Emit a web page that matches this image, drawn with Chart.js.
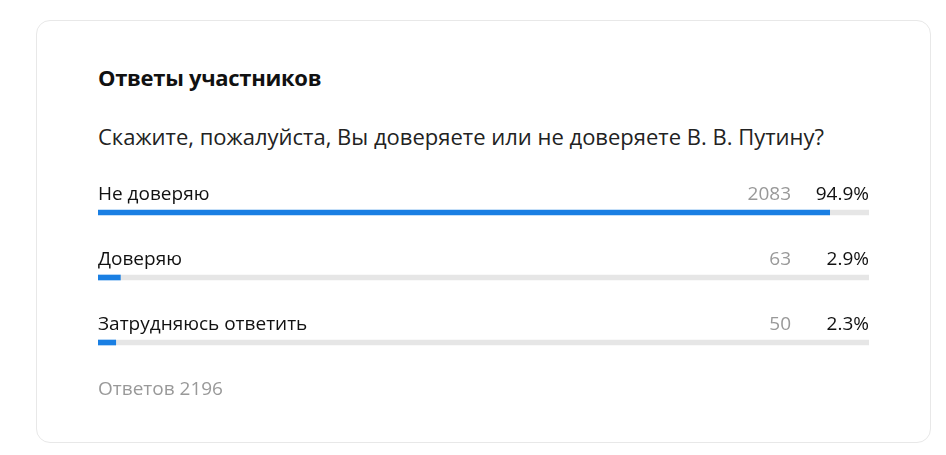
<!DOCTYPE html>
<html>
<head>
<meta charset="utf-8">
<script src="https://cdn.jsdelivr.net/npm/chart.js@4/dist/chart.umd.min.js"></script>
<style>
  body { margin: 0; background: #fff; font-family: "Open Sans", "Noto Sans", sans-serif; }
  #card {
    position: absolute; left: 36px; top: 20px; width: 893px; height: 421px;
    border: 1px solid #e8e8e8; border-radius: 14px;
  }
  #title { position: absolute; left: 98px; top: 62px; font-size: 22px; font-weight: 700; color: #111; letter-spacing: -0.3px; line-height: 30px; }
  #question { position: absolute; left: 98px; top: 121px; font-size: 22px; color: #222; line-height: 30px; }
  #footer { position: absolute; left: 98px; top: 375px; font-size: 19px; color: #999; line-height: 26px; }
  #wrap { position: absolute; left: 98px; top: 170px; width: 771px; height: 215px; }
</style>
</head>
<body>
<div id="card"></div>
<div id="title">Ответы участников</div>
<div id="question">Скажите, пожалуйста, Вы доверяете или не доверяете В. В. Путину?</div>
<div id="wrap"><canvas id="chart"></canvas></div>
<div id="footer">Ответов 2196</div>
<script>
// answers as shown in the poll
const answers = ["Не доверяю", "Доверяю", "Затрудняюсь ответить"];
const counts = [2083, 63, 50];
const percents = [94.9, 2.9, 2.3];

const rest = percents.map(p => 100 - p);

// text above each bar: answer on the left, count and percent on the right
const rowText = {
  id: "rowText",
  afterDatasetsDraw(chart) {
    const { ctx, chartArea, scales } = chart;
    ctx.save();
    ctx.font = '19px "Open Sans", "Noto Sans", sans-serif';
    ctx.textBaseline = "alphabetic";
    answers.forEach((name, i) => {
      const y = scales.y.getPixelForValue(i) - 13;
      ctx.fillStyle = "#111";
      ctx.textAlign = "left";
      ctx.fillText(name, chartArea.left, y);
      ctx.textAlign = "right";
      ctx.fillText(percents[i].toFixed(1) + "%", chartArea.right, y);
      ctx.fillStyle = "#999";
      ctx.fillText(String(counts[i]), chartArea.right - 78, y);
    });
    ctx.restore();
  }
};

new Chart(document.getElementById("chart"), {
  type: "bar",
  data: {
    labels: answers,
    datasets: [
      { data: percents, backgroundColor: "#1a7fe3", barThickness: 5 },
      { data: rest, backgroundColor: "#e6e6e6", barThickness: 5 }
    ]
  },
  options: {
    indexAxis: "y",
    responsive: true,
    maintainAspectRatio: false,
    animation: false,
    layout: { padding: { top: 10, bottom: 10, left: 0, right: 0 } },
    scales: {
      x: { stacked: true, min: 0, max: 100, display: false },
      y: { stacked: true, display: false }
    },
    plugins: { legend: { display: false }, tooltip: { enabled: false } }
  },
  plugins: [rowText]
});
</script>
</body>
</html>
